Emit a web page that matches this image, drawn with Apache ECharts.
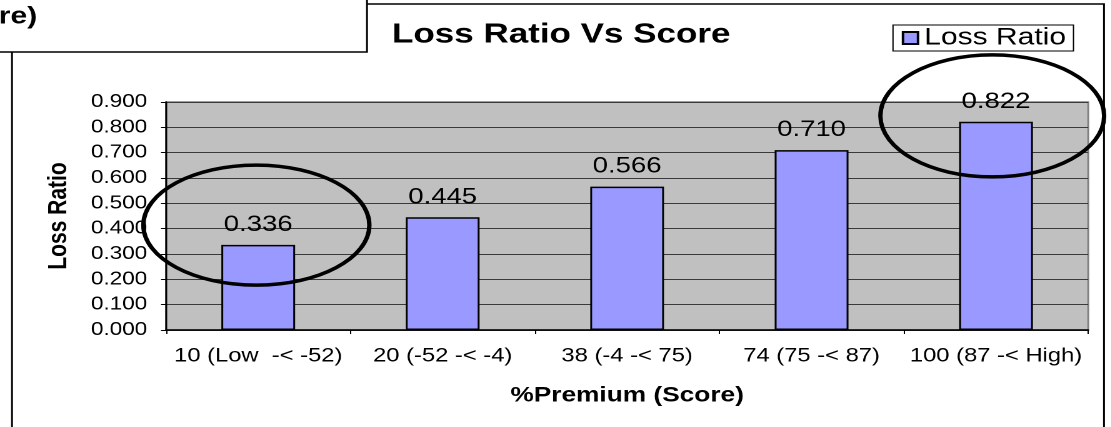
<!DOCTYPE html>
<html>
<head>
<meta charset="utf-8">
<title>Loss Ratio Vs Score</title>
<script src="https://cdn.jsdelivr.net/npm/echarts@6/dist/echarts.min.js"></script>
<style>
  html, body { margin: 0; padding: 0; background: #fff; overflow: hidden; }
  /* the source picture is stretched sideways, so draw narrower and scale it out */
  #main { width: 888.8px; height: 427px; transform: scaleX(1.25); transform-origin: 0 0; }
</style>
</head>
<body>
<div id="main"></div>
<script>
const categories = ['10 (Low  -< -52)', '20 (-52 -< -4)', '38 (-4 -< 75)', '74 (75 -< 87)', '100 (87 -< High)'];
const lossRatio = [0.336, 0.445, 0.566, 0.710, 0.822];
const yMin = 0;
const yMax = 0.9;
const yStep = 0.1;

const font = 'Arial, "Liberation Sans", sans-serif';

const chart = echarts.init(document.getElementById('main'), null, { devicePixelRatio: 2 });

const option = {
    animation: false,
    backgroundColor: '#fff',
    textStyle: { fontFamily: font, color: '#000' },
    title: {
        text: 'Loss Ratio Vs Score',
        left: 313.6,
        top: 21,
        padding: 0,
        textStyle: { fontSize: 28, fontWeight: 'bold', color: '#000', fontFamily: font },
    },
    legend: {
        left: 714.4,
        top: 25,
        padding: [1, 6, 1, 7],
        borderColor: '#000',
        borderWidth: 1,
        itemWidth: 12,
        itemHeight: 12,
        icon: 'rect',
        textStyle: { fontSize: 24, color: '#000', fontFamily: font },
        data: ['Loss Ratio'],
    },
    grid: {
        left: 132.8,
        right: 18.4,
        top: 102,
        bottom: 97,
        show: true,
        backgroundColor: '#C0C0C0',
        borderColor: '#808080',
        borderWidth: 1.5,
    },
    xAxis: {
        type: 'category',
        data: categories,
        name: '%Premium (Score)',
        nameLocation: 'middle',
        nameGap: 55,
        nameTextStyle: { fontSize: 21, fontWeight: 'bold', color: '#000', fontFamily: font },
        axisLine: { lineStyle: { color: '#000', width: 1.5 } },
        axisTick: { show: true, length: 4, lineStyle: { color: '#000' } },
        axisLabel: { interval: 0, fontSize: 19, margin: 17, color: '#000', fontFamily: font },
    },
    yAxis: {
        type: 'value',
        min: yMin,
        max: yMax,
        interval: yStep,
        name: 'Loss Ratio',
        nameLocation: 'middle',
        nameRotate: 90,
        nameGap: 75,
        nameTextStyle: { fontSize: 21, fontWeight: 'bold', color: '#000', fontFamily: font },
        axisLine: { show: true, lineStyle: { color: '#000', width: 1.5 } },
        axisTick: { show: true, length: 4, lineStyle: { color: '#000' } },
        axisLabel: {
            fontSize: 18,
            margin: 15,
            color: '#000',
            fontFamily: font,
            formatter: (v) => v.toFixed(3),
        },
        splitLine: { show: true, lineStyle: { color: '#3a3a3a', width: 1 } },
    },
    series: [
        {
            name: 'Loss Ratio',
            type: 'bar',
            data: lossRatio,
            barWidth: '40%',
            itemStyle: { color: '#9999FF', borderColor: '#000', borderWidth: 1.5 },
            label: {
                show: true,
                position: 'top',
                distance: 9,
                fontSize: 22,
                color: '#000',
                fontFamily: font,
                formatter: (p) => p.value.toFixed(3),
            },
        },
    ],
};

chart.setOption(option);

// hand-drawn rings round the lowest and highest bands, plus the page frame
function drawMarks() {
    const rings = [
        { idx: 0, at: 0.414, dx: -1.5, rx: 90.4, ry: 60 },
        { idx: 4, at: 0.845, dx: -3, rx: 89.5, ry: 61 },
    ];
    const els = [
        {
            type: 'rect', z: 0,
            shape: { x: 9.6, y: 4, width: 873.6, height: 500 },
            style: { fill: null, stroke: '#000', lineWidth: 1.5 },
        },
        {
            type: 'rect', z: 10,
            shape: { x: -5, y: -5, width: 298.6, height: 57 },
            style: { fill: '#fff', stroke: '#000', lineWidth: 1.5 },
        },
        {
            type: 'text', z: 11,
            style: { text: 're)', x: -1, y: 17, font: 'bold 24px ' + font, fill: '#000', verticalAlign: 'middle' },
        },
    ];
    rings.forEach((r) => {
        const c = chart.convertToPixel({ seriesIndex: 0 }, [r.idx, r.at]);
        els.push({
            type: 'ellipse', z: 20,
            shape: { cx: c[0] + r.dx, cy: c[1], rx: r.rx, ry: r.ry },
            style: { fill: null, stroke: '#000', lineWidth: 3.5 },
        });
    });
    chart.setOption({ graphic: els });
}
drawMarks();
</script>
</body>
</html>
